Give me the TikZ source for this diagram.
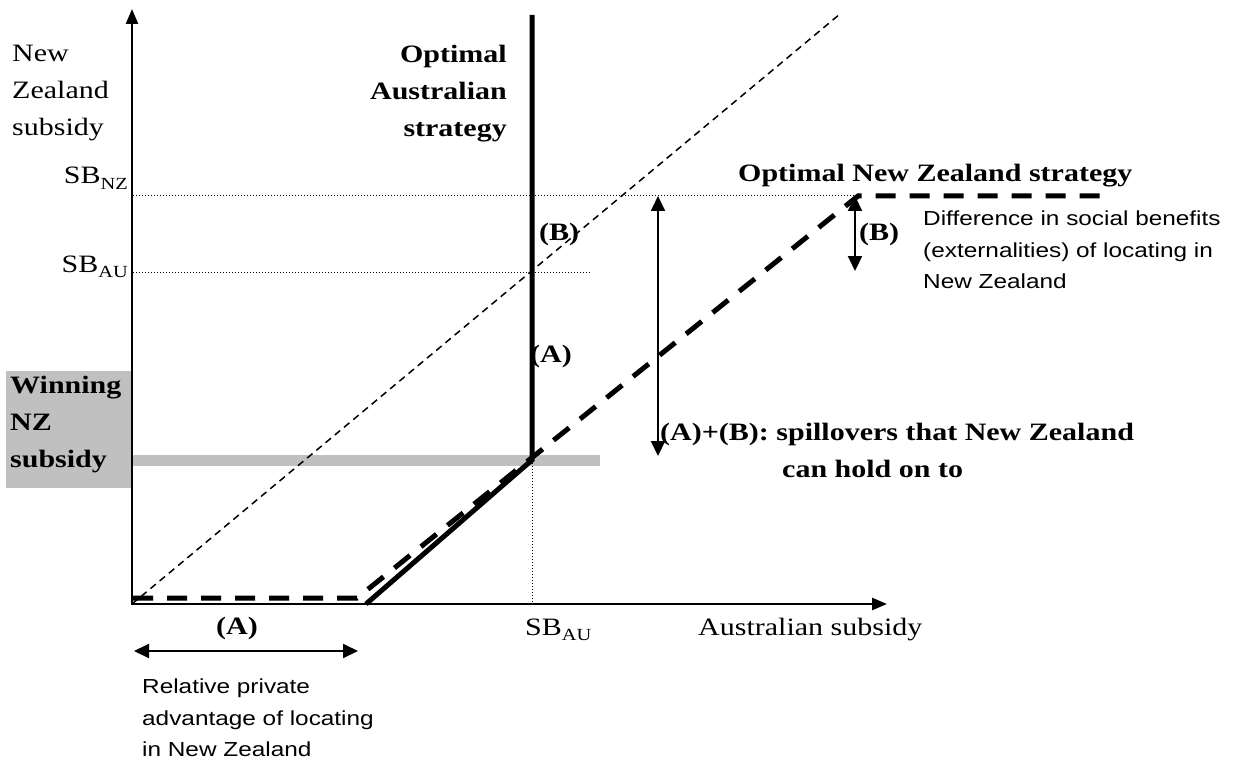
\documentclass[tikz,border=0pt]{standalone}
\usepackage{fontspec}
\setmainfont{Liberation Serif}[FakeStretch=1.2]
\newfontfamily\sansf{Liberation Sans}[FakeStretch=1.2]
\usetikzlibrary{arrows.meta}
\definecolor{barg}{RGB}{192,192,192}
\newcommand\mysub[1]{\raisebox{-0.22em}{\fontsize{17}{17}\selectfont #1}}
\begin{document}
\begin{tikzpicture}[x=1pt,y=-1pt,
  serif/.style={font=\fontsize{25}{37}\selectfont, inner sep=0pt},
  boldlbl/.style={font=\fontsize{25}{37}\selectfont\bfseries, inner sep=0pt},
  sanslbl/.style={font=\sansf\fontsize{20.3}{31.5}\selectfont, inner sep=0pt, align=left},
  axis/.style={line width=2.5pt, -{Triangle[length=15pt,width=12pt]}},
  strat/.style={line width=5pt},
  nzstrat/.style={line width=5pt, dash pattern=on 20pt off 14pt},
  guide/.style={line width=1pt, dotted},
  diag/.style={line width=1.5pt, dash pattern=on 7pt off 5pt},
  dbl/.style={line width=2pt, {Triangle[length=15pt,width=14pt]}-{Triangle[length=15pt,width=14pt]}}
]
\useasboundingbox (0,0) rectangle (1239,762);

% key points
\coordinate (O) at (132,604);
\coordinate (Ytip) at (132,9);
\coordinate (Xtip) at (887,604);
\coordinate (Atop) at (532,15);
\coordinate (K) at (532,460);
\coordinate (F) at (366,604);
\coordinate (N0) at (133,598);
\coordinate (N1) at (357,598);
\coordinate (N2) at (858,196);
\coordinate (N3) at (1110,196);
\coordinate (D1) at (840,14);
\coordinate (gNZa) at (133,196);
\coordinate (gNZb) at (854,196);
\coordinate (gAUa) at (133,272);
\coordinate (gAUb) at (590,272);
\coordinate (Kx) at (532,604);
\coordinate (Ga) at (133,460.5);
\coordinate (Gb) at (600,460.5);
\coordinate (V1a) at (658,196);
\coordinate (V1b) at (658,456);
\coordinate (V2a) at (855,196);
\coordinate (V2b) at (855,271);
\coordinate (H1a) at (134,651);
\coordinate (H1b) at (358,651);

% grey areas
\fill[barg] (6,371) rectangle (132,488);
\draw[barg, line width=11pt] (Ga) -- (Gb);

% guides
\draw[guide] (gNZa) -- (gNZb);
\draw[guide] (gAUa) -- (gAUb);
\draw[guide] (K) -- (Kx);

% 45 degree line
\draw[diag] (O) -- (D1);

% strategies
\draw[strat] (Atop) -- (K) -- (F);
\draw[nzstrat] (N0) -- (N1) -- (N2) -- (N3);

% axes
\draw[axis] (O) -- (Ytip);
\draw[axis] ([xshift=-1.25pt]O) -- (Xtip);

% double arrows
\draw[dbl] (V1a) -- (V1b);
\draw[dbl] (V2a) -- (V2b);
\draw[dbl] (H1a) -- (H1b);

% labels
\node[serif, anchor=north west, align=left] (ylab) at (12,45) {New\\Zealand\\subsidy};
\node[serif, anchor=base east] (sbnz) at (128,184) {SB\mysub{NZ}};
\node[serif, anchor=base east] (sbau) at (128,272) {SB\mysub{AU}};
\node[boldlbl, anchor=north west, align=left] (win) at (10,376) {Winning\\NZ\\subsidy};
\node[boldlbl, anchor=north east, align=right] (oas) at (507,45) {Optimal\\Australian\\strategy};
\node[boldlbl] (bv) at (559,234) {(B)};
\node[boldlbl] (av) at (551,356) {(A)};
\node[boldlbl, anchor=north west, align=left] (spill) at (660,423) {(A)+(B): spillovers that New Zealand\\\hspace*{122pt}can hold on to};
\node[boldlbl, anchor=base west] (onz) at (738,182) {Optimal New Zealand strategy};
\node[boldlbl] (bnz) at (879,234) {(B)};
\node[sanslbl, anchor=north west] (diff) at (923,211) {Difference in social benefits\\(externalities) of locating in\\New Zealand};
\node[boldlbl] (ax) at (237,628) {(A)};
\node[sanslbl, anchor=north west] (rel) at (142,679) {Relative private\\advantage of locating\\in New Zealand};
\node[serif, anchor=base west] (sbaux) at (525,635) {SB\mysub{AU}};
\node[serif, anchor=base west] (xlab) at (698,635) {Australian subsidy};
\end{tikzpicture}
\end{document}
